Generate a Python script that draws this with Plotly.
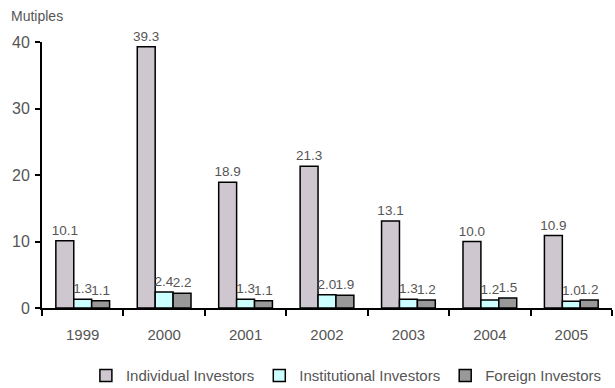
import plotly.graph_objects as go

years = ["1999", "2000", "2001", "2002", "2003", "2004", "2005"]
individual = [10.1, 39.3, 18.9, 21.3, 13.1, 10.0, 10.9]
institutional = [1.3, 2.4, 1.3, 2.0, 1.3, 1.2, 1.0]
foreign = [1.1, 2.2, 1.1, 1.9, 1.2, 1.5, 1.2]
y_ticks = [0, 10, 20, 30, 40]

series = [
    ("Individual Investors", individual, "#CFC7D0"),
    ("Institutional Investors", institutional, "#CCFFFF"),
    ("Foreign Investors", foreign, "#999999"),
]

fig = go.Figure()
for name, vals, color in series:
    fig.add_trace(go.Bar(
        x=years, y=vals, name=name,
        marker=dict(color=color, line=dict(color="black", width=1.5)),
        text=[f"{v:.1f}" for v in vals],
        textposition="outside",
        constraintext="none",
        cliponaxis=False,
        textfont=dict(family="Liberation Sans, Arial", size=13.5, color="#555555"),
    ))

fig.update_layout(
    width=615, height=388,
    margin=dict(l=42, r=3, t=42, b=80, autoexpand=False),
    paper_bgcolor="white", plot_bgcolor="white",
    barmode="group", bargap=0.34, bargroupgap=0,
    font=dict(family="Liberation Sans, Arial", color="#444444"),
    showlegend=True,
    legend=dict(
        orientation="h", x=0.077, xanchor="left", y=-0.255, yanchor="middle",
        font=dict(size=15, color="#555555"),
        itemwidth=30, traceorder="normal",
    ),
    annotations=[dict(
        text="Mutiples", xref="paper", yref="paper", x=-0.058, y=1.06,
        xanchor="left", yanchor="bottom", showarrow=False,
        font=dict(size=14, color="#555555"),
    )],
)
fig.update_xaxes(
    showline=True, linecolor="black", linewidth=2,
    ticks="outside", tickson="boundaries", ticklen=6, tickcolor="black", tickwidth=2,
    tickfont=dict(size=15, color="#555555"), showgrid=False,
    ticklabelstandoff=12,
)
fig.update_yaxes(
    range=[0, 40], tickvals=y_ticks,
    showline=True, linecolor="black", linewidth=2,
    ticks="outside", ticklen=5, tickcolor="black", tickwidth=2,
    tickfont=dict(size=16, color="#555555"), showgrid=False, zeroline=False,
    ticklabelstandoff=2,
)

fig.write_html("out.html")
